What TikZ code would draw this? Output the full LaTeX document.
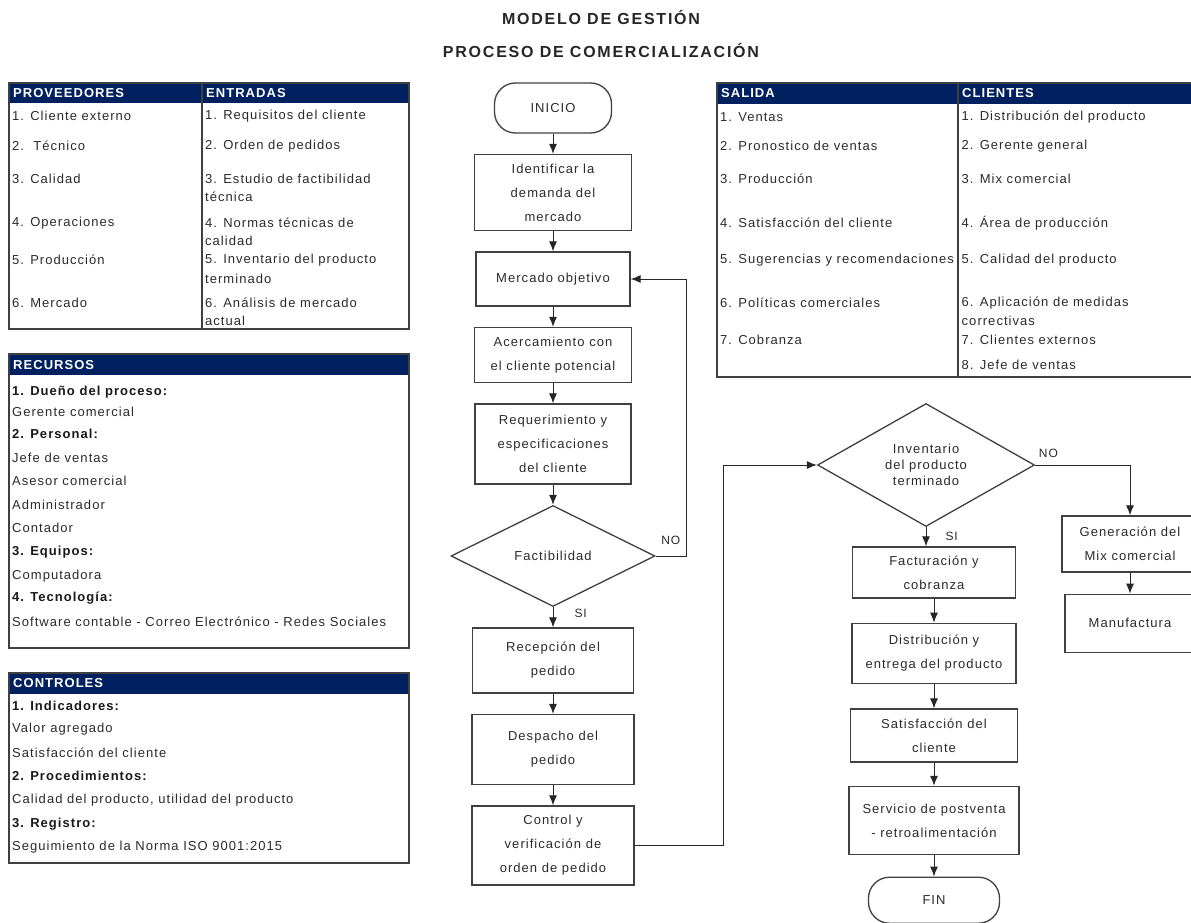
\documentclass[tikz,border=0pt]{standalone}
\usepackage{fontspec}
\setmainfont{Liberation Sans}[LetterSpace=8]
\usepackage{xcolor}
\usepackage{tikz}
\usetikzlibrary{shapes.geometric, arrows.meta, positioning, calc}

\definecolor{headnavy}{HTML}{002060}
\definecolor{boxgray}{HTML}{404040}
\definecolor{textgray}{HTML}{2B2B2B}

\tikzset{
        flowbox/.style={rectangle, draw=boxgray, line width=1.3pt, fill=white, align=center, inner sep=2pt, text=textgray, font=\fontsize{13}{24}\selectfont},
        terminal/.style={flowbox, rounded corners=21pt},
        decision/.style={diamond, draw=boxgray, line width=1.3pt, fill=white, align=center, inner sep=0pt, text=textgray},
        flowline/.style={->, black!85, line width=1pt},
        tablebox/.style={draw=boxgray, line width=1.2pt},
        headtext/.style={anchor=west, inner sep=0pt, text=white, font=\bfseries\fontsize{13}{15}\selectfont},
        cell/.style={anchor=west, inner sep=0pt, text=textgray, font=\fontsize{13}{15}\selectfont},
        cellbold/.style={cell, text=black!90, font=\bfseries\fontsize{13}{15}\selectfont},
        tag/.style={inner sep=1pt, text=textgray, font=\fontsize{12}{14}\selectfont}
}

\begin{document}
\begin{tikzpicture}[x=1pt, y=-1pt, node distance=20.2pt, >={Latex[length=10pt,width=8pt]}]
        \useasboundingbox (0,0) rectangle (1191,923);
        \fill[white] (0,0) rectangle (1191,923);

        \node (Titulo) [font=\bfseries\fontsize{16}{18}\selectfont\addfontfeatures{LetterSpace=11}, text=black!85] at (601,17) {MODELO DE GESTIÓN};
        \node (Subtitulo) [font=\bfseries\fontsize{16}{18}\selectfont\addfontfeatures{LetterSpace=11}, text=black!85] at (601,50) {PROCESO DE COMERCIALIZACIÓN};

        \fill[headnavy] (9,83) rectangle (409,103);
        \draw[tablebox] (9,83) rectangle (409,329);
        \draw[tablebox] (202,83) -- (202,329);
        \node (Proveedores) [headtext] at (13,93) {PROVEEDORES};
        \node (Entradas) [headtext] at (206,93) {ENTRADAS};
        \foreach \y/\t [count=\i] in {116/1. Cliente externo, 146/2.\ \ Técnico, 179/3. Calidad, 223/4. Operaciones, 260/5. Producción, 303/6. Mercado}
                \node (Prov\i) [cell] at (12,\y) {\t};
        \foreach \y/\t [count=\i] in {116/1. Requisitos del cliente, 146/2. Orden de pedidos, 179/3. Estudio de factibilidad, 197/técnica, 223/4. Normas técnicas de, 241/calidad, 260/5. Inventario del producto, 279/terminado, 303/6. Análisis de mercado, 321/actual}
                \node (Entr\i) [cell] at (205,\y) {\t};

        \fill[headnavy] (9,354) rectangle (409,375);
        \draw[tablebox] (9,354) rectangle (409,648);
        \node (Recursos) [headtext] at (13,365) {RECURSOS};
        \foreach \y/\s/\t [count=\i] in {392/cellbold/1. Dueño del proceso:, 412/cell/Gerente comercial, 434/cellbold/2. Personal:, 458/cell/Jefe de ventas, 481/cell/Asesor comercial, 505/cell/Administrador, 528/cell/Contador, 552/cellbold/3. Equipos:, 576/cell/Computadora, 598/cellbold/4. Tecnología:, 622/cell/Software contable - Correo Electrónico - Redes Sociales}
                \node (Rec\i) [\s] at (12,\y) {\t};

        \fill[headnavy] (9,673) rectangle (409,694);
        \draw[tablebox] (9,673) rectangle (409,863);
        \node (Controles) [headtext] at (13,683) {CONTROLES};
        \foreach \y/\s/\t [count=\i] in {706/cellbold/1. Indicadores:, 729/cell/Valor agregado, 753/cell/Satisfacción del cliente, 776/cellbold/2. Procedimientos:, 800/cell/{Calidad del producto, utilidad del producto}, 824/cellbold/3. Registro:, 847/cell/Seguimiento de la Norma ISO 9001:2015}
                \node (Ctrl\i) [\s] at (12,\y) {\t};

        \fill[headnavy] (717,83) rectangle (1200,104);
        \draw[tablebox] (717,83) rectangle (1200,377);
        \draw[tablebox] (958,83) -- (958,377);
        \node (Salida) [headtext] at (721,93) {SALIDA};
        \node (Clientes) [headtext] at (962,93) {CLIENTES};
        \foreach \y/\t [count=\i] in {117/1. Ventas, 146/2. Pronostico de ventas, 179/3. Producción, 223/4. Satisfacción del cliente, 260/5. Sugerencias y recomendaciones, 303/6. Políticas comerciales, 340/7. Cobranza}
                \node (Sal\i) [cell] at (720,\y) {\t};
        \foreach \y/\t [count=\i] in {117/1. Distribución del producto, 146/2. Gerente general, 179/3. Mix comercial, 223/4. Área de producción, 260/5. Calidad del producto, 303/6. Aplicación de medidas, 321/correctivas, 340/7. Clientes externos, 365/8. Jefe de ventas}
                \node (Cli\i) [cell, fill=white, inner sep=0.5pt] at (961,\y) {\t};

        \node (Inicio) [terminal, minimum width=117pt, minimum height=50pt] at (553,108) {INICIO};
        \node (Identificar) [flowbox, minimum width=157pt, minimum height=76pt, below=of Inicio] {Identificar la\\demanda del\\mercado};
        \node (Mercado) [flowbox, minimum width=154pt, minimum height=54pt, below=of Identificar] {Mercado objetivo};
        \node (Acercamiento) [flowbox, minimum width=157pt, minimum height=55pt, below=of Mercado] {Acercamiento con\\el cliente potencial};
        \node (Requerimiento) [flowbox, minimum width=156pt, minimum height=80pt, below=of Acercamiento] {Requerimiento y\\especificaciones\\del cliente};
        \node (Factibilidad) [decision, aspect=2, minimum width=204pt, minimum height=101pt, font=\fontsize{13}{16}\selectfont, below=of Requerimiento] {Factibilidad};
        \node (Recepcion) [flowbox, minimum width=161pt, minimum height=65pt, below=of Factibilidad] {Recepción del\\pedido};
        \node (Despacho) [flowbox, minimum width=162pt, minimum height=70pt, below=of Recepcion] {Despacho del\\pedido};
        \node (Control) [flowbox, minimum width=162pt, minimum height=79pt, below=of Despacho] {Control y\\verificación de\\orden de pedido};

        \node (Inventario) [decision, aspect=1.76, minimum width=217pt, minimum height=123pt, font=\fontsize{13}{16}\selectfont] at (926,465) {Inventario\\del producto\\terminado};
        \node (Facturacion) [flowbox, minimum width=163pt, minimum height=51pt] at (934,572.5) {Facturación y\\cobranza};
        \node (Distribucion) [flowbox, minimum width=164pt, minimum height=60pt, below=24pt of Facturacion] {Distribución y\\entrega del producto};
        \node (Satisfaccion) [flowbox, minimum width=167pt, minimum height=53pt, below=24.5pt of Distribucion] {Satisfacción del\\cliente};
        \node (Postventa) [flowbox, minimum width=170pt, minimum height=68pt, below=23pt of Satisfaccion] {Servicio de postventa\\- retroalimentación};
        \node (Fin) [terminal, minimum width=131pt, minimum height=46pt, below=21.5pt of Postventa] {FIN};
        \node (Generacion) [flowbox, minimum width=136pt, minimum height=56pt] at (1130,544) {Generación del\\Mix comercial};
        \node (Manufactura) [flowbox, minimum width=130pt, minimum height=58pt, below=21pt of Generacion] {Manufactura};

        \coordinate (RetornoNo) at (686,0);
        \coordinate (Subida) at (723,0);

        \draw[flowline] (Inicio) -- (Identificar);
        \draw[flowline] (Identificar) -- (Mercado);
        \draw[flowline] (Mercado) -- (Acercamiento);
        \draw[flowline] (Acercamiento) -- (Requerimiento);
        \draw[flowline] (Requerimiento) -- (Factibilidad);
        \draw[flowline] (Factibilidad.east) -- node[tag, above=10pt] {NO} (Factibilidad.east -| RetornoNo) |- (Mercado.east);
        \draw[flowline] (Factibilidad) -- node[tag, right=20pt, pos=0.3] {SI} (Recepcion);
        \draw[flowline] (Recepcion) -- (Despacho);
        \draw[flowline] (Despacho) -- (Control);
        \draw[flowline] (Control.east) -- (Control.east -| Subida) |- (Inventario.west);
        \draw[flowline] (Inventario.east) -| node[tag, above=6pt, pos=0.07] {NO} (Generacion.north);
        \draw[flowline] (Inventario.south) -- node[tag, right=18pt] {SI} (Inventario.south |- Facturacion.north);
        \draw[flowline] (Facturacion) -- (Distribucion);
        \draw[flowline] (Distribucion) -- (Satisfaccion);
        \draw[flowline] (Satisfaccion) -- (Postventa);
        \draw[flowline] (Postventa) -- (Fin);
        \draw[flowline] (Generacion) -- (Manufactura);
\end{tikzpicture}
\end{document}
